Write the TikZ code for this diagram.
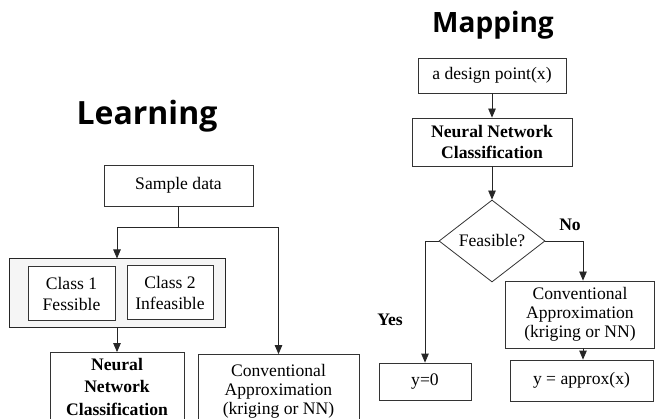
\documentclass[tikz,border=0pt]{standalone}
\usepackage{fontspec}
\setmainfont{Liberation Serif}
\newfontfamily\titlefont{Open Sans}
\usetikzlibrary{arrows.meta,shapes.geometric}
\begin{document}
\begin{tikzpicture}[x=1pt,y=-1pt,
  box/.style={draw=black!80, line width=0.8pt, fill=white, inner sep=0pt, align=center,
              font=\fontsize{17.6}{21}\selectfont},
  groupbox/.style={draw=black!85, line width=1pt, fill=black!4, inner sep=0pt},
  arr/.style={-{Triangle[length=9pt,width=7.5pt]}, line width=0.8pt, draw=black!85},
  link/.style={line width=0.8pt, draw=black!85},
  heading/.style={font=\titlefont\bfseries, inner sep=0pt, anchor=base},
  tag/.style={font=\bfseries\fontsize{17.6}{20}\selectfont, inner sep=0pt}]
\useasboundingbox (0,0) rectangle (655,419);
\clip (0,0) rectangle (655,419);

% ---------------- Learning ----------------
\node[heading, font=\titlefont\bfseries\fontsize{32}{36}\selectfont] (tLearn) at (147,125) {Learning};

\node[box, minimum width=149pt, minimum height=41pt] (sample) at (178.5,185.5) {Sample data};

\node[groupbox, minimum width=216pt, minimum height=68pt] (group) at (117,293) {};
\node[box, minimum width=87pt, minimum height=54pt] (class1) at (71.5,293.5) {Class 1\\Fessible};
\node[box, minimum width=86pt, minimum height=54pt] (class2) at (170,292.5) {Class 2\\Infeasible};

\node[box, minimum width=134pt, minimum height=68pt, font=\bfseries\fontsize{17.6}{22.5}\selectfont] (nnL) at (117,386.5) {Neural\\Network\\Classification};
\node[box, minimum width=161pt, minimum height=74pt, font=\fontsize{17.6}{19}\selectfont] (convL) at (278.5,391.5) {Conventional\\Approximation\\(kriging or NN)};

\coordinate (splitL) at (117,227);
\coordinate (splitR) at (278.5,227);
\draw[link] (sample.south) -- (sample.south |- splitL);
\draw[arr] (sample.south |- splitL) -- (splitL) -- (group.north);
\draw[arr] (sample.south |- splitR) -- (splitR) -- (convL.north);
\draw[arr] (group.south) -- (nnL.north);

% ---------------- Mapping ----------------
\node[heading, font=\titlefont\bfseries\fontsize{28}{32}\selectfont] (tMap) at (493,33) {Mapping};

\node[box, minimum width=148pt, minimum height=35pt] (dp) at (492,75.5) {a design point(x)};
\node[box, minimum width=160pt, minimum height=48pt, font=\bfseries\fontsize{17.6}{21}\selectfont] (nnR) at (492,142) {Neural Network\\Classification};
\node[box, diamond, aspect=1.3, minimum width=106pt, minimum height=82pt] (dec) at (492,241) {Feasible?};

\node[box, minimum width=92pt, minimum height=37pt] (y0) at (425,381.5) {y=0};
\node[box, minimum width=149pt, minimum height=67pt, font=\fontsize{17.6}{19}\selectfont] (convR) at (580,314.5) {Conventional\\Approximation\\(kriging or NN)};
\node[box, minimum width=143pt, minimum height=41pt] (yapp) at (581.5,380.5) {y = approx(x)};

\coordinate (noturn) at (583,241);
\draw[arr] (dp.south) -- (nnR.north);
\draw[arr] (nnR.south) -- (dec.north);
\draw[arr] (dec.west) -- (dec.west -| y0.north) -- (y0.north);
\draw[arr] (dec.east) -- (noturn) -- (noturn |- convR.north);
\draw[arr] (noturn |- convR.south) -- (noturn |- yapp.north);

\node[tag] (yes) at (390,320) {Yes};
\node[tag] (no) at (570,225) {No};
\end{tikzpicture}
\end{document}
